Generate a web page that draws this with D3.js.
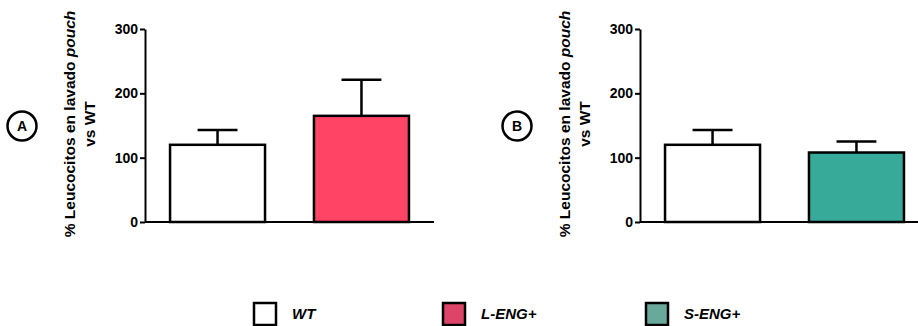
<!DOCTYPE html>
<html>
<head>
<meta charset="utf-8">
<script src="https://d3js.org/d3.v7.min.js"></script>
<style>
  body { margin: 0; background: #fff; }
  svg { font-family: "Liberation Sans", Arial, sans-serif; font-weight: bold; }
  .axis path, .axis line { stroke: #000; stroke-width: 2; }
  .axis text { font-size: 14px; font-weight: bold; fill: #000; }
</style>
</head>
<body>
<script>
// data
var groupsA = ["WT", "L-ENG+"];
var meansA = [120, 165];
var errA = [23, 56];

var groupsB = ["WT", "S-ENG+"];
var meansB = [120, 108];
var errB = [23, 17];

var yTicks = [0, 100, 200, 300];
var legendLabels = ["WT", "L-ENG+", "S-ENG+"];
var barColors = {"WT": "#ffffff", "L-ENG+": "#ff4466", "S-ENG+": "#38aa9a"};
var legendColors = {"WT": "#ffffff", "L-ENG+": "#dc4567", "S-ENG+": "#69a99c"};

var W = 918, H = 326;

var svg = d3.select("body").append("svg")
    .attr("width", W)
    .attr("height", H);

var yScale = d3.scaleLinear().domain([0, 300]).range([222, 29]);

function panel(letter, axisX, groups, means, errs, labelX, circleX) {
    var x = d3.scaleBand()
        .domain(groups)
        .range([axisX, axisX + 289])
        .paddingInner(0.34)
        .paddingOuter(0.174);

    var g = svg.append("g");

    // x axis baseline
    g.append("line")
        .attr("x1", axisX).attr("x2", axisX + 289)
        .attr("y1", yScale(0)).attr("y2", yScale(0))
        .attr("stroke", "#000").attr("stroke-width", 2);

    g.append("g")
        .attr("class", "axis")
        .attr("transform", "translate(" + axisX + ",0)")
        .call(d3.axisLeft(yScale).tickValues(yTicks).tickSize(5).tickPadding(2).tickSizeOuter(0));

    var data = groups.map(function(d, i) { return {g: d, m: means[i], e: errs[i]}; });

    // error bars (drawn first so bar outline sits on top)
    var capW = x.bandwidth() * 0.42;
    data.forEach(function(d) {
        var cx = x(d.g) + x.bandwidth() / 2;
        g.append("line")
            .attr("x1", cx).attr("x2", cx)
            .attr("y1", yScale(d.m)).attr("y2", yScale(d.m + d.e))
            .attr("stroke", "#000").attr("stroke-width", 2.5);
        g.append("line")
            .attr("x1", cx - capW / 2).attr("x2", cx + capW / 2)
            .attr("y1", yScale(d.m + d.e)).attr("y2", yScale(d.m + d.e))
            .attr("stroke", "#000").attr("stroke-width", 2.5);
    });

    g.selectAll(".bar")
        .data(data).enter().append("rect")
        .attr("class", "bar")
        .attr("x", d => x(d.g))
        .attr("width", x.bandwidth())
        .attr("y", d => yScale(d.m))
        .attr("height", d => yScale(0) - yScale(d.m))
        .attr("fill", d => barColors[d.g])
        .attr("stroke", "#000")
        .attr("stroke-width", 2.5);

    // y title, two lines rotated
    var cy = 124;
    var t1 = g.append("text")
        .attr("transform", "translate(" + labelX + "," + cy + ") rotate(-90)")
        .attr("text-anchor", "middle")
        .attr("font-size", 15.5);
    t1.append("tspan").text("% Leucocitos en lavado ");
    t1.append("tspan").attr("font-style", "italic").text("pouch");

    g.append("text")
        .attr("transform", "translate(" + (labelX + 20) + "," + cy + ") rotate(-90)")
        .attr("text-anchor", "middle")
        .attr("font-size", 15.5)
        .text("vs WT");

    // panel letter
    g.append("circle")
        .attr("cx", circleX).attr("cy", 126).attr("r", 14.5)
        .attr("fill", "none").attr("stroke", "#000").attr("stroke-width", 2.5);
    g.append("text")
        .attr("x", circleX).attr("y", 131)
        .attr("text-anchor", "middle")
        .attr("font-size", 14)
        .text(letter);
}

panel("A", 145, groupsA, meansA, errA, 75, 22);
panel("B", 640, groupsB, meansB, errB, 570, 517);

// legend
var legend = svg.append("g");
var legendX = d3.scaleOrdinal().domain(legendLabels).range([254, 443, 646]);
legendLabels.forEach(function(l) {
    var lx = legendX(l);
    legend.append("rect")
        .attr("x", lx).attr("y", 303)
        .attr("width", 22).attr("height", 22)
        .attr("fill", legendColors[l])
        .attr("stroke", "#000").attr("stroke-width", 2.5);
    legend.append("text")
        .attr("x", lx + 38).attr("y", 319)
        .attr("font-size", 15)
        .attr("font-style", "italic")
        .text(l);
});
</script>
</body>
</html>
